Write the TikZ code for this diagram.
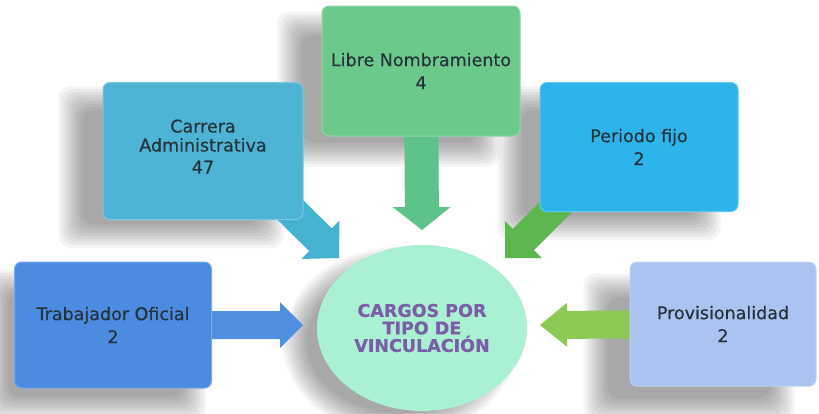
\documentclass[tikz,border=0pt]{standalone}
\usepackage{fontspec}
\setmainfont{DejaVu Sans}[FakeBold=0.4]
\usetikzlibrary{calc,shapes.geometric}
\pgfdeclarelayer{bg}
\pgfdeclarelayer{arr}
\pgfsetlayers{bg,arr,main}
\definecolor{libg}{HTML}{6CC98C}
\definecolor{carb}{HTML}{4EB4D6}
\definecolor{perb}{HTML}{2DB4EB}
\definecolor{trab}{HTML}{4B8CE1}
\definecolor{prob}{HTML}{AAC3F0}
\definecolor{mint}{HTML}{AAF0D2}
\definecolor{purp}{HTML}{7B5EA7}
\definecolor{txt}{HTML}{26323A}
\definecolor{arteal}{HTML}{45B2CF}
\definecolor{ardown}{HTML}{5DC38B}
\definecolor{arper}{HTML}{5CB84E}
\definecolor{artra}{HTML}{4F8FE2}
\definecolor{arpro}{HTML}{8CC955}
\newcommand\blockarr[6]{%
  \path ($(#3)!#6!(#2)$) coordinate (bahd);
  \fill[#1] ($(#2)!#4!90:(#3)$) -- ($(bahd)!#4!90:(#3)$) -- ($(bahd)!#5!90:(#3)$)
    -- (#3) -- ($(bahd)!#5!-90:(#3)$) -- ($(bahd)!#4!-90:(#3)$) -- ($(#2)!#4!-90:(#3)$) -- cycle;}
\newcommand\boxshade[3]{%
  \foreach \k in {-12,-9,...,12}{
    \fill[black, opacity=0.045, rounded corners=12pt]
      ([shift={({#2+\k},{#3+\k})}]#1.north west) rectangle ([shift={({#2-\k},{#3-\k})}]#1.south east);
  }}
\tikzset{
  box/.style={rounded corners=7pt, align=center, text=txt, inner sep=2pt,
    font=\fontsize{17.5}{23}\selectfont, line width=1pt},
}
\begin{document}
\begin{tikzpicture}[x=1pt,y=-1pt]
\useasboundingbox (0,0) rectangle (819,413);
\clip (0,0) rectangle (819,413);
% boxes
\node[box, fill=libg, draw=libg!75!white, minimum width=198pt, minimum height=130pt] (lib) at (421,71) {Libre Nombramiento\\4};
\node[box, fill=carb, draw=carb!75!white, minimum width=200pt, minimum height=137pt] (car) at (203,151) {Carrera\\[-4pt]Administrativa\\[-1pt]47\\[-14pt]\mbox{}};
\node[box, fill=perb, draw=perb!75!white, minimum width=198pt, minimum height=129pt] (per) at (639,147) {Periodo fijo\\2};
\node[box, fill=trab, draw=trab!75!white, minimum width=197pt, minimum height=126pt] (tra) at (113,325) {Trabajador Oficial\\2};
\node[box, fill=prob, draw=prob!75!white, minimum width=186pt, minimum height=124pt] (pro) at (723,324) {Provisionalidad\\2};
\node[ellipse, fill=mint, minimum width=210pt, minimum height=166pt, inner sep=0pt, align=center,
  text=purp, font=\bfseries\fontsize{17.5}{17.5}\selectfont] (ell) at (422,328) {CARGOS POR\\TIPO DE\\VINCULACIÓN};
% arrow end points
\coordinate (t1) at (303,325);
\coordinate (t2) at (540,325);
\coordinate (t3) at (422,230);
\coordinate (s4) at (262,182);
\coordinate (t4) at (339,258);
\coordinate (s5) at (582,181);
\coordinate (t5) at (505,258);
\begin{pgfonlayer}{arr}
\blockarr{artra}{tra.center}{t1}{14pt}{23pt}{23pt}
\blockarr{arpro}{pro.center}{t2}{14pt}{22pt}{27pt}
\blockarr{ardown}{lib.center}{t3}{17pt}{29pt}{23pt}
\blockarr{arteal}{s4}{t4}{16pt}{27pt}{26pt}
\blockarr{arper}{s5}{t5}{15pt}{26pt}{26pt}
\end{pgfonlayer}
\begin{pgfonlayer}{bg}
\fill[white] (0,0) rectangle (819,413);
\boxshade{lib}{-32}{18}
\boxshade{car}{-32}{16}
\boxshade{per}{-30}{16}
\boxshade{tra}{-18}{20}
\boxshade{pro}{-34}{24}
\foreach \k in {-12,-9,...,12}{
  \fill[black, opacity=0.045] ($(ell.center)+(-22,14)$) ellipse [x radius={(105-\k)*1pt}, y radius={(83-\k)*1pt}];
}
\end{pgfonlayer}
\end{tikzpicture}
\end{document}
